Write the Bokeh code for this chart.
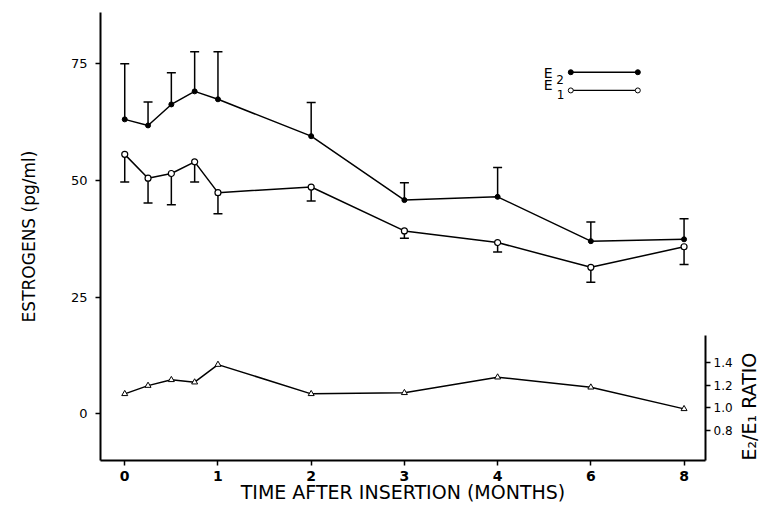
import numpy as np
from math import pi
from bokeh.plotting import figure
from bokeh.models import (Range1d, LinearAxis, FixedTicker, ColumnDataSource,
                          Whisker, TeeHead, PrintfTickFormatter)
from bokeh.embed import file_html
from bokeh.resources import INLINE
from bokeh.core.properties import value

# ---------------- data ----------------
months = [0, 0.25, 0.5, 0.75, 1, 2, 3, 4, 6, 8]
e2_mean = [63.1, 61.8, 66.3, 69.1, 67.4, 59.5, 45.8, 46.5, 37.0, 37.4]
e2_upper = [75.0, 66.8, 73.1, 77.6, 77.6, 66.7, 49.5, 52.8, 41.1, 41.8]
e1_mean = [55.6, 50.5, 51.5, 54.0, 47.4, 48.6, 39.2, 36.7, 31.4, 35.8]
e1_lower = [49.7, 45.2, 44.8, 49.7, 42.9, 45.6, 37.6, 34.7, 28.2, 32.0]
ratio = [1.124, 1.197, 1.248, 1.227, 1.383, 1.124, 1.133, 1.271, 1.182, 0.991]
x_tick_months = [0, 1, 2, 3, 4, 6, 8]
y_ticks = [0, 25, 50, 75]
ratio_ticks = [0.8, 1.0, 1.2, 1.4]

# the time axis is drawn with equally spaced month ticks (0,1,2,3,4,6,8)
tick_pos = list(range(len(x_tick_months)))
xpos = np.interp(months, x_tick_months, tick_pos)

FONT = "DejaVu Sans"

p = figure(frame_width=605, frame_height=448,
           x_range=Range1d(-0.26, 6.23), y_range=Range1d(-10, 86),
           output_backend="svg", toolbar_location=None,
           min_border_left=100, min_border_right=70,
           min_border_top=12, min_border_bottom=57)
p.extra_y_ranges = {"ratio": Range1d(0.534, 4.50)}
p.grid.visible = False
p.outline_line_color = None
p.background_fill_color = "white"
p.border_fill_color = "white"

# x axis
xa = p.xaxis[0]
xa.ticker = FixedTicker(ticks=tick_pos)
xa.major_label_overrides = {i: str(m) for i, m in zip(tick_pos, x_tick_months)}
xa.axis_label = "TIME AFTER INSERTION (MONTHS)"
xa.axis_label_text_font = FONT
xa.axis_label_text_font_size = "19px"
xa.axis_label_text_font_style = "normal"
xa.axis_label_standoff = -3
xa.major_label_text_font = FONT
xa.major_label_text_font_size = "14px"
xa.major_label_text_font_style = "bold"
xa.major_label_standoff = 5

# left axis
ya = p.yaxis[0]
ya.ticker = FixedTicker(ticks=y_ticks)
ya.axis_label = "ESTROGENS (pg/ml)"
ya.axis_label_text_font = FONT
ya.axis_label_text_font_size = "17px"
ya.axis_label_text_font_style = "normal"
ya.axis_label_standoff = 29
ya.major_label_text_font = FONT
ya.major_label_text_font_size = "13px"
ya.major_label_standoff = 8

# right ratio axis
ra = LinearAxis(y_range_name="ratio", ticker=FixedTicker(ticks=ratio_ticks),
                formatter=PrintfTickFormatter(format="%.1f"),
                bounds=(0.534, 1.64), axis_label="E\u2082/E\u2081 RATIO")
ra.major_label_text_font = FONT
ra.major_label_text_font_size = "12px"
ra.major_label_standoff = 3
ra.axis_label_text_font = FONT
ra.axis_label_text_font_size = "19px"
ra.axis_label_text_font_style = "normal"
ra.axis_label_standoff = 13
props = ra.properties()
if "axis_label_orientation" in props:
    ra.axis_label_orientation = pi / 2
if "axis_label_align" in props:
    ra.axis_label_align = "start"
p.add_layout(ra, "right")

for ax in (xa, ya, ra):
    ax.axis_line_width = 2
    ax.axis_line_color = "black"
    ax.major_tick_line_width = 1.5
    ax.major_tick_out = 5
    ax.major_tick_in = 0
    ax.minor_tick_out = 0
    ax.minor_tick_in = 0
    ax.major_label_text_color = "black"
    ax.axis_label_text_color = "black"

src = ColumnDataSource(dict(x=xpos, e2=e2_mean, e2u=e2_upper,
                            e1=e1_mean, e1l=e1_lower, r=ratio))

# error bars
p.add_layout(Whisker(source=src, base="x", lower="e2", upper="e2u",
                     dimension="height", line_width=1.5, line_color="black",
                     upper_head=TeeHead(size=9, line_width=1.5, line_color="black"),
                     lower_head=None))
p.add_layout(Whisker(source=src, base="x", lower="e1l", upper="e1",
                     dimension="height", line_width=1.5, line_color="black",
                     lower_head=TeeHead(size=9, line_width=1.5, line_color="black"),
                     upper_head=None))

# E2 line with filled dots
p.line("x", "e2", source=src, line_color="black", line_width=1.5)
p.scatter("x", "e2", source=src, size=5, marker="circle",
          fill_color="black", line_color="black")
# E1 line with open circles
p.line("x", "e1", source=src, line_color="black", line_width=1.5)
p.scatter("x", "e1", source=src, size=6, marker="circle",
          fill_color="white", line_color="black", line_width=1.2)
# ratio with open triangles
p.line("x", "r", source=src, line_color="black", line_width=1.5,
       y_range_name="ratio")
p.scatter("x", "r", source=src, size=6, marker="triangle",
          fill_color="white", line_color="black", line_width=1.0,
          y_range_name="ratio")

# ---------------- legend (layout positions) ----------------
LX0, LX1 = 4.785, 5.504
LY2, LY1 = 73.2, 69.3
p.line([LX0, LX1], [LY2, LY2], line_color="black", line_width=1.5)
p.scatter([LX0, LX1], [LY2, LY2], size=5, fill_color="black", line_color="black")
p.line([LX0, LX1], [LY1, LY1], line_color="black", line_width=1.2)
p.scatter([LX0, LX1], [LY1, LY1], size=5, fill_color="white", line_color="black")
p.text(x=[4.496, 4.496], y=[73.1, 70.4], text=["E", "E"],
       text_font=value(FONT), text_font_size="14px",
       text_baseline="middle", text_align="left", text_color="black")
p.text(x=[4.63, 4.635], y=[71.6, 68.4], text=["2", "1"],
       text_font=value(FONT), text_font_size="12px",
       text_baseline="middle", text_align="left", text_color="black")

open("out.html", "w").write(file_html(p, INLINE))
